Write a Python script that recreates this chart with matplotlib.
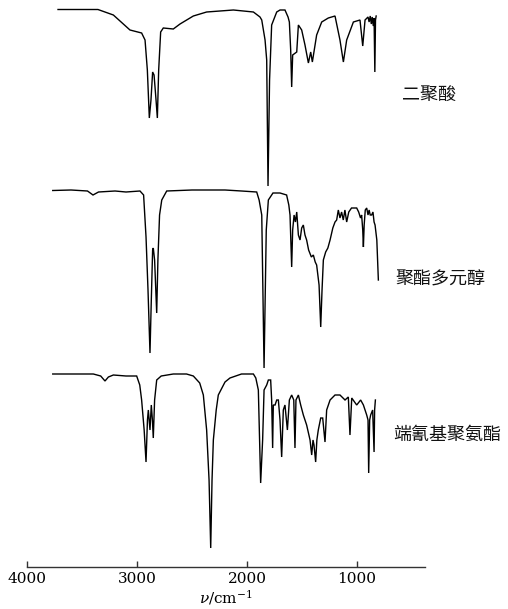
import numpy as np
import matplotlib
matplotlib.use("Agg")
import matplotlib.pyplot as plt

plt.rcParams["font.family"] = ["Noto Sans CJK SC", "DejaVu Sans"]
plt.rcParams["mathtext.fontset"] = "dejavuserif"

# IR spectra, wavenumber (cm-1) and band depth below each trace's baseline (arbitrary units)
nu_dimer = [3718, 3500, 3355, 3215, 3064, 2958, 2927, 2906, 2888, 2873, 2858, 2845, 2827, 2815,
            2803, 2785, 2761, 2670, 2609, 2488, 2367, 2124, 1942, 1882, 1866, 1836, 1821, 1809,
            1795, 1776, 1730, 1700, 1655, 1627, 1615, 1603, 1594, 1585, 1548, 1533, 1503, 1473,
            1442, 1421, 1406, 1367, 1321, 1261, 1200, 1155, 1124, 1094, 1033, 973, 948, 927,
            900, 890, 880, 870, 862, 852, 845, 838, 832, 826]
d_dimer = [0.5, 0.5, 0.5, 6, 21, 24, 31, 61, 109, 91, 63, 66, 91, 109,
           61, 23, 19, 20, 15, 7, 3, 1, 3, 8, 11, 31, 51, 177,
           71, 16, 3, 1, 1, 8, 13, 41, 78, 46, 43, 16, 21, 36,
           54, 43, 53, 26, 13, 9, 7, 31, 53, 31, 13, 11, 37, 11,
           8, 13, 7, 15, 8, 17, 9, 63, 11, 7]

nu_polyol = [3766, 3600, 3450, 3400, 3350, 3200, 3100, 2973, 2940, 2918, 2900, 2882, 2870, 2858,
             2852, 2840, 2821, 2810, 2795, 2775, 2730, 2500, 2200, 2050, 1912, 1890, 1866, 1845,
             1825, 1806, 1764, 1700, 1640, 1620, 1609, 1594, 1585, 1572, 1560, 1548, 1533, 1518,
             1503, 1488, 1473, 1458, 1440, 1415, 1397, 1380, 1367, 1345, 1330, 1318, 1306, 1285,
             1265, 1245, 1220, 1200, 1185, 1170, 1155, 1140, 1125, 1110, 1094, 1075, 1050, 1020,
             1003, 985, 968, 958, 948, 942, 935, 925, 912, 900, 890, 880, 867, 855,
             845, 836, 820, 806]
d_polyol = [0.5, 0, 1, 5, 2, 1, 2, 1, 5, 47, 100, 163, 110, 60,
            58, 70, 123, 70, 25, 10, 1, 0, 0, 1, 2, 10, 25, 178,
            40, 10, 3, 3, 5, 15, 25, 77, 40, 25, 32, 22, 45, 50,
            38, 35, 45, 50, 60, 67, 65, 72, 75, 95, 137, 100, 70, 62,
            58, 50, 38, 32, 30, 20, 28, 22, 30, 20, 32, 22, 18, 18,
            18, 22, 28, 25, 40, 57, 35, 20, 18, 25, 20, 25, 25, 22,
            32, 35, 50, 90]

nu_ptu = [3766, 3500, 3397, 3330, 3291, 3260, 3215, 3100, 3003, 2975, 2958, 2935, 2918, 2905,
          2897, 2882, 2870, 2860, 2852, 2840, 2821, 2780, 2670, 2550, 2488, 2430, 2397, 2367,
          2345, 2330, 2318, 2306, 2280, 2261, 2200, 2155, 2050, 1942, 1920, 1897, 1876, 1858,
          1845, 1821, 1806, 1785, 1776, 1767, 1761, 1745, 1730, 1715, 1700, 1685, 1670, 1655,
          1633, 1615, 1594, 1575, 1564, 1555, 1533, 1512, 1488, 1458, 1427, 1412, 1400, 1391,
          1376, 1365, 1352, 1330, 1312, 1291, 1276, 1245, 1200, 1155, 1109, 1079, 1064, 1048,
          1003, 967, 942, 912, 900, 894, 885, 876, 858, 845, 840, 833]
d_ptu = [0, 0, 0, 2, 7, 3, 1, 2, 2, 11, 26, 56, 88, 46,
         36, 56, 31, 46, 64, 26, 6, 2, 0, 0, 2, 9, 21, 56,
         106, 174, 106, 66, 36, 21, 8, 4, 0, 0, 4, 16, 109, 66,
         16, 11, 6, 6, 26, 74, 31, 31, 26, 26, 46, 83, 36, 31,
         56, 26, 21, 26, 74, 26, 21, 31, 41, 51, 66, 81, 66, 71,
         88, 66, 56, 44, 44, 68, 36, 26, 21, 21, 26, 23, 61, 24,
         31, 26, 31, 41, 46, 99, 46, 41, 36, 78, 36, 26]

labels = ["二聚酸", "聚酯多元醇", "端氰基聚氨酯"]

# vertical placement of each trace, and where its label sits
bases = [557.7, 376.7, 192.7]
label_pos = [(594, 471.7), (654, 286.7), (673, 131.7)]

fig = plt.figure(figsize=(5.08, 6.09), dpi=100)
ax = fig.add_axes([27 / 508, 42.3 / 609, 398 / 508, 566.7 / 609])

spectra = [(nu_dimer, d_dimer), (nu_polyol, d_polyol), (nu_ptu, d_ptu)]
for (nu, depth), base in zip(spectra, bases):
    ax.plot(nu, base - np.asarray(depth), color="black", lw=1.0, solid_joinstyle="miter")

for lab, (lx, ly) in zip(labels, label_pos):
    ax.text(lx, ly, lab, fontsize=13, va="center", ha="left", color="#111111", clip_on=False)

ax.set_xlim(4000, 382)
ax.set_ylim(0, 566.7)
for side in ["left", "right", "top"]:
    ax.spines[side].set_visible(False)
ax.spines["bottom"].set_linewidth(1.0)
ax.spines["bottom"].set_color("#333333")
ax.set_yticks([])
ax.set_xticks([4000, 3000, 2000, 1000])
ax.tick_params(axis="x", direction="in", length=4, width=1.0, color="#333333", pad=4)
for t in ax.get_xticklabels():
    t.set_family("DejaVu Serif")
    t.set_fontsize(11)
ax.set_xlabel(r"$\nu$/cm$^{-1}$", fontsize=11, family="DejaVu Serif", labelpad=1)
ax.patch.set_visible(False)

fig.savefig("out.png", dpi=100)
